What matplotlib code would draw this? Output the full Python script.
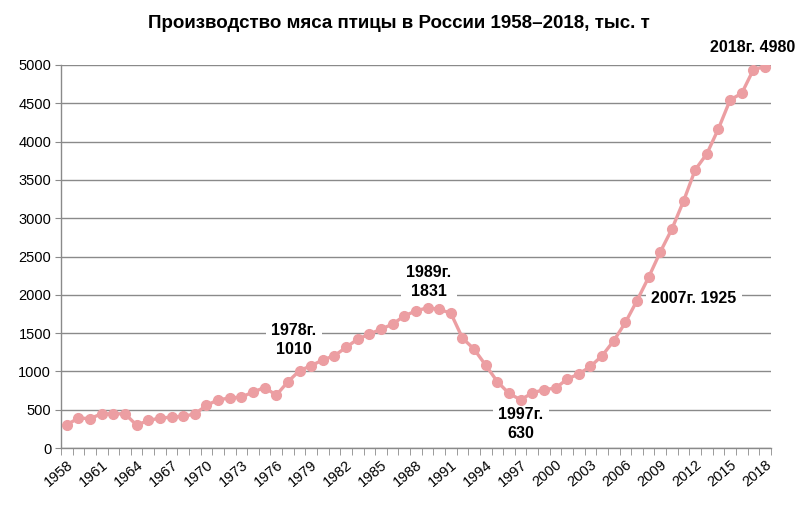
import matplotlib.pyplot as plt

plt.rcParams["font.family"] = ["Liberation Sans", "DejaVu Sans"]

years = list(range(1958, 2019))
production = [
    305, 390, 385, 447, 447, 447, 298, 360, 390, 404,
    413, 445, 556, 630, 652, 665, 730, 790, 690, 865,
    1010, 1075, 1150, 1205, 1314, 1422, 1487, 1552, 1617, 1725,
    1790, 1831, 1810, 1760, 1435, 1290, 1080, 866, 712, 630,
    719, 762, 782, 900, 967, 1065, 1205, 1400, 1639, 1925,
    2230, 2560, 2860, 3225, 3633, 3841, 4170, 4544, 4631, 4940,
    4980,
]
tick_years = years[::3]
notes = [
    ("1978г.\n1010", 1977.5, 1414),
    ("1989г.\n1831", 1989.1, 2171),
    ("1997г.\n630", 1997.0, 317),
    ("2007г. 1925", 2011.9, 1950),
    ("2018г. 4980", 2016.9, 5227),
]

line_color = "#ec9ea2"

fig = plt.figure(figsize=(7.98, 5.09), dpi=100)
ax = fig.add_axes([0.0764, 0.1198, 0.8896, 0.7525])

ax.yaxis.grid(True, color="#8a8a8a", linewidth=1.0)
ax.set_axisbelow(True)
ax.plot(years, production, color=line_color, linewidth=2.4,
        marker="o", markersize=7, markerfacecolor=line_color,
        markeredgecolor=line_color, zorder=3)

ax.set_xlim(years[0] - 0.5, years[-1] + 0.5)
ax.set_ylim(0, 5000)
ax.set_yticks(range(0, 5001, 500))
ax.set_xticks(tick_years)
ax.set_xticklabels([str(y) for y in tick_years], rotation=40,
                   ha="right", rotation_mode="anchor")
ax.set_xticks([y - 0.5 for y in years] + [years[-1] + 0.5], minor=True)
ax.tick_params(axis="x", which="major", length=0, pad=7, labelsize=10.5)
ax.tick_params(axis="x", which="minor", length=5, color="#8a8a8a")
ax.tick_params(axis="y", length=4, color="#8a8a8a", labelsize=10.5, pad=3)

for side in ("top", "right"):
    ax.spines[side].set_visible(False)
for side in ("left", "bottom"):
    ax.spines[side].set_color("#8a8a8a")
    ax.spines[side].set_linewidth(1.0)

# label boxes sit above the grid but under the line
for text, x, y in notes:
    ax.text(x, y, text, ha="center", va="center", fontsize=11.5,
            fontweight="bold", linespacing=1.3, clip_on=False, zorder=2,
            bbox=dict(facecolor="white", edgecolor="none", pad=4))

fig.text(0.5, 0.953, "Производство мяса птицы в России 1958–2018, тыс. т",
         ha="center", va="center", fontsize=13.5, fontweight="bold")

fig.savefig("out.png", dpi=100)
